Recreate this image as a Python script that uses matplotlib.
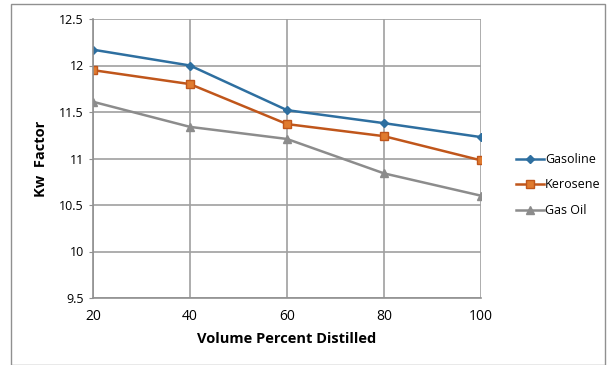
import matplotlib
matplotlib.use("Agg")
import matplotlib.pyplot as plt
from matplotlib.patches import Rectangle

x = [20, 40, 60, 80, 100]
gasoline = [12.17, 12.0, 11.52, 11.38, 11.23]
kerosene = [11.95, 11.80, 11.37, 11.24, 10.98]
gas_oil = [11.61, 11.34, 11.21, 10.84, 10.60]
series_names = ["Gasoline", "Kerosene", "Gas Oil"]
yticks = [9.5, 10, 10.5, 11, 11.5, 12, 12.5]
ytick_labels = ["9.5", "10", "10.5", "11", "11.5", "12", "12.5"]

plt.rcParams['font.family'] = ['Open Sans', 'DejaVu Sans']

fig = plt.figure(figsize=(6.08, 3.65), dpi=100)
ax = fig.add_axes([93/608, 1-298/365, (481-93)/608, (298-19)/365])

ax.plot(x, gasoline, color='#2e6fa0', marker='D', markersize=4, lw=1.8, label=series_names[0])
ax.plot(x, kerosene, color='#c0561b', marker='s', markersize=6, lw=1.8,
        markerfacecolor='#e07b2f', markeredgecolor='#c0561b', label=series_names[1])
ax.plot(x, gas_oil, color='#8c8c8c', marker='^', markersize=6, lw=1.8, label=series_names[2])

ax.set_xlim(20, 100)
ax.set_ylim(9.5, 12.5)
ax.set_xticks(x)
ax.set_xticklabels([str(v) for v in x], fontsize=10)
ax.set_yticks(yticks)
ax.set_yticklabels(ytick_labels, fontsize=9)
ax.grid(True, color='#a0a0a0', lw=1.2)
for s in ['top', 'right']:
    ax.spines[s].set_visible(False)
for s in ['left', 'bottom']:
    ax.spines[s].set_color('#909090')
    ax.spines[s].set_linewidth(1.2)
ax.tick_params(axis='both', colors='#909090', labelcolor='black', length=3)
ax.tick_params(axis='x', length=0, pad=8)
ax.set_axisbelow(True)

ax.set_xlabel("Volume Percent Distilled", fontsize=10.5, fontweight='bold', labelpad=6)
ax.set_ylabel("Kw  Factor", fontsize=10.5, fontweight='bold', labelpad=8)

leg = fig.legend(loc='center left', bbox_to_anchor=(505/608, 1-185/365), frameon=False,
                 fontsize=9, handlelength=2.2, handletextpad=0.1, labelspacing=1.0)

fig.patches.append(Rectangle((11/608, 0), 594/608, 1-4/365, transform=fig.transFigure,
                             fill=False, edgecolor='#909090', lw=1.0))

fig.savefig("out.png", dpi=100)
